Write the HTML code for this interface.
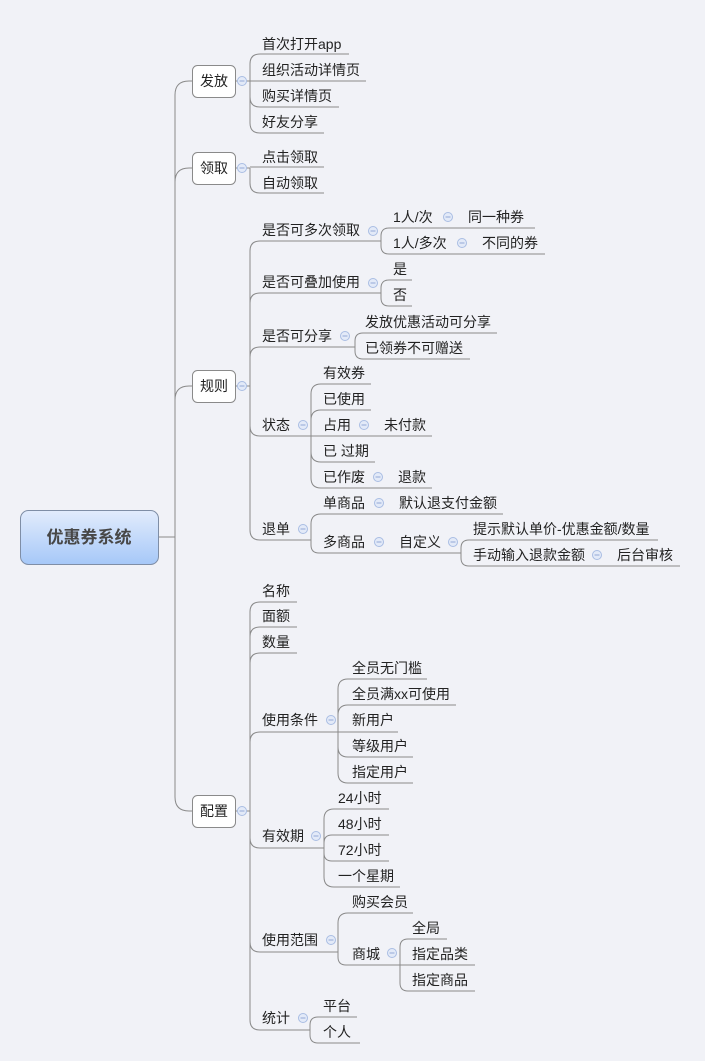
<!DOCTYPE html>
<html><head><meta charset="utf-8"><style>
html,body{margin:0;padding:0;background:#f1f2f7;}
svg{display:block;}
text{font-family:"Liberation Sans","Noto Sans CJK SC",sans-serif;font-size:14px;fill:#222;}
.l{fill:none;stroke:#8a8a8a;stroke-width:1;}
</style></head><body>
<svg width="705" height="1061" viewBox="0 0 705 1061" xmlns="http://www.w3.org/2000/svg">
<defs>
<linearGradient id="g" x1="0" y1="0" x2="0" y2="1"><stop offset="0" stop-color="#e2ecfc"/><stop offset="1" stop-color="#a6c8f8"/></linearGradient>
<g id="c"><circle r="4.5" fill="#e3eaf8" stroke="#a9bde3"/><line x1="-2.5" y1="0" x2="2.5" y2="0" stroke="#93a8d6"/></g>
</defs>
<g class="l">
<path d="M158 537 H175"/>
<path d="M175 537 V95 Q175 81 189 81 H192"/>
<path d="M175 537 V182 Q175 168 189 168 H192"/>
<path d="M175 537 V400 Q175 386 189 386 H192"/>
<path d="M175 537 V797 Q175 811 189 811 H192"/>
<path d="M235 81 H250"/>
<path d="M250 81 V64 Q250 54 260 54 H349"/>
<path d="M250 81 H366"/>
<path d="M250 81 V97 Q250 107 260 107 H339"/>
<path d="M250 81 V123 Q250 133 260 133 H324"/>
<path d="M235 168 H250"/>
<path d="M250 167 H324"/>
<path d="M250 168 V183 Q250 193 260 193 H324"/>
<path d="M235 386 H250"/>
<path d="M250 386 V251 Q250 241 260 241 H381"/>
<path d="M250 386 V303 Q250 293 260 293 H381"/>
<path d="M250 386 V357 Q250 347 260 347 H355"/>
<path d="M250 386 V426 Q250 436 260 436 H311"/>
<path d="M250 386 V530 Q250 540 260 540 H311"/>
<path d="M381 241 V236 Q381 228 389 228 H535"/>
<path d="M381 241 V246 Q381 254 389 254 H545"/>
<path d="M381 293 V288 Q381 280 389 280 H412"/>
<path d="M381 293 V298 Q381 306 389 306 H412"/>
<path d="M355 347 V341 Q355 333 363 333 H497"/>
<path d="M355 347 V351 Q355 359 363 359 H470"/>
<path d="M311 436 V394 Q311 384 321 384 H371"/>
<path d="M311 436 V420 Q311 410 321 410 H371"/>
<path d="M311 436 H432"/>
<path d="M311 436 V452 Q311 462 321 462 H375"/>
<path d="M311 436 V478 Q311 488 321 488 H432"/>
<path d="M311 540 V524 Q311 514 321 514 H503"/>
<path d="M311 540 V545 Q311 553 319 553 H461"/>
<path d="M461 553 V548 Q461 540 469 540 H658"/>
<path d="M461 553 V558 Q461 566 469 566 H680"/>
<path d="M235 811 H250"/>
<path d="M250 811 V612 Q250 602 260 602 H297"/>
<path d="M250 811 V637 Q250 627 260 627 H297"/>
<path d="M250 811 V663 Q250 653 260 653 H297"/>
<path d="M250 811 V742 Q250 732 260 732 H338"/>
<path d="M250 811 V838 Q250 848 260 848 H324"/>
<path d="M250 811 V942 Q250 952 260 952 H338"/>
<path d="M250 811 V1020 Q250 1030 260 1030 H310"/>
<path d="M338 732 V689 Q338 679 348 679 H427"/>
<path d="M338 732 V715 Q338 705 348 705 H456"/>
<path d="M338 732 H398"/>
<path d="M338 732 V747 Q338 757 348 757 H413"/>
<path d="M338 732 V773 Q338 783 348 783 H413"/>
<path d="M324 848 V819 Q324 809 334 809 H389"/>
<path d="M324 848 V843 Q324 835 332 835 H389"/>
<path d="M324 848 V853 Q324 861 332 861 H389"/>
<path d="M324 848 V877 Q324 887 334 887 H400"/>
<path d="M338 952 V923 Q338 913 348 913 H413"/>
<path d="M338 952 V957 Q338 965 346 965 H400"/>
<path d="M400 965 V947 Q400 939 408 939 H447"/>
<path d="M400 965 H475"/>
<path d="M400 965 V983 Q400 991 408 991 H475"/>
<path d="M310 1030 V1025 Q310 1017 318 1017 H357"/>
<path d="M310 1030 V1035 Q310 1043 318 1043 H360"/>
</g>
<rect x="20.5" y="510.5" width="138" height="54" rx="8" fill="url(#g)" stroke="#7f8ea6"/>
<text x="89" y="543" text-anchor="middle" style="font-size:17px;font-weight:bold;fill:#474747">优惠券系统</text>
<g fill="#fff" stroke="#8a8a8a">
<rect x="192.5" y="65.5" width="43" height="32" rx="5"/>
<rect x="192.5" y="152.5" width="43" height="32" rx="5"/>
<rect x="192.5" y="370.5" width="43" height="32" rx="5"/>
<rect x="192.5" y="795.5" width="43" height="32" rx="5"/>
</g>
<g text-anchor="middle"><text x="214" y="86">发放</text><text x="214" y="173">领取</text><text x="214" y="391">规则</text><text x="214" y="816">配置</text></g>
<use href="#c" x="242" y="81"/><use href="#c" x="242" y="168"/><use href="#c" x="242" y="386"/><use href="#c" x="242" y="811"/>
<use href="#c" x="373" y="231"/><use href="#c" x="373" y="283"/><use href="#c" x="345" y="336"/><use href="#c" x="303" y="425"/><use href="#c" x="303" y="529"/>
<use href="#c" x="448" y="217"/><use href="#c" x="462" y="243"/><use href="#c" x="364" y="425"/><use href="#c" x="378" y="477"/><use href="#c" x="379" y="503"/><use href="#c" x="379" y="542"/><use href="#c" x="453" y="542"/><use href="#c" x="597" y="555"/>
<use href="#c" x="331" y="720"/><use href="#c" x="316" y="836"/><use href="#c" x="331" y="940"/><use href="#c" x="392" y="953"/><use href="#c" x="303" y="1018"/>
<text x="262" y="49">首次打开app</text>
<text x="262" y="75">组织活动详情页</text>
<text x="262" y="101">购买详情页</text>
<text x="262" y="127">好友分享</text>
<text x="262" y="162">点击领取</text>
<text x="262" y="188">自动领取</text>
<text x="262" y="235">是否可多次领取</text>
<text x="393" y="222">1人/次</text><text x="468" y="222">同一种券</text>
<text x="393" y="248">1人/多次</text><text x="482" y="248">不同的券</text>
<text x="262" y="287">是否可叠加使用</text>
<text x="393" y="274">是</text><text x="393" y="300">否</text>
<text x="262" y="341">是否可分享</text>
<text x="365" y="327">发放优惠活动可分享</text>
<text x="365" y="353">已领券不可赠送</text>
<text x="262" y="430">状态</text>
<text x="323" y="378">有效券</text>
<text x="323" y="404">已使用</text>
<text x="323" y="430">占用</text><text x="384" y="430">未付款</text>
<text x="323" y="456">已 过期</text>
<text x="323" y="482">已作废</text><text x="398" y="482">退款</text>
<text x="262" y="534">退单</text>
<text x="323" y="508">单商品</text><text x="399" y="508">默认退支付金额</text>
<text x="323" y="547">多商品</text><text x="399" y="547">自定义</text>
<text x="473" y="534">提示默认单价-优惠金额/数量</text>
<text x="473" y="560">手动输入退款金额</text><text x="617" y="560">后台审核</text>
<text x="262" y="596">名称</text>
<text x="262" y="621">面额</text>
<text x="262" y="647">数量</text>
<text x="262" y="725">使用条件</text>
<text x="352" y="673">全员无门槛</text>
<text x="352" y="699">全员满xx可使用</text>
<text x="352" y="725">新用户</text>
<text x="352" y="751">等级用户</text>
<text x="352" y="777">指定用户</text>
<text x="262" y="841">有效期</text>
<text x="338" y="803">24小时</text>
<text x="338" y="829">48小时</text>
<text x="338" y="855">72小时</text>
<text x="338" y="881">一个星期</text>
<text x="262" y="945">使用范围</text>
<text x="352" y="907">购买会员</text>
<text x="352" y="959">商城</text>
<text x="412" y="933">全局</text>
<text x="412" y="959">指定品类</text>
<text x="412" y="985">指定商品</text>
<text x="262" y="1023">统计</text>
<text x="323" y="1011">平台</text>
<text x="323" y="1037">个人</text>
</svg>
</body></html>
